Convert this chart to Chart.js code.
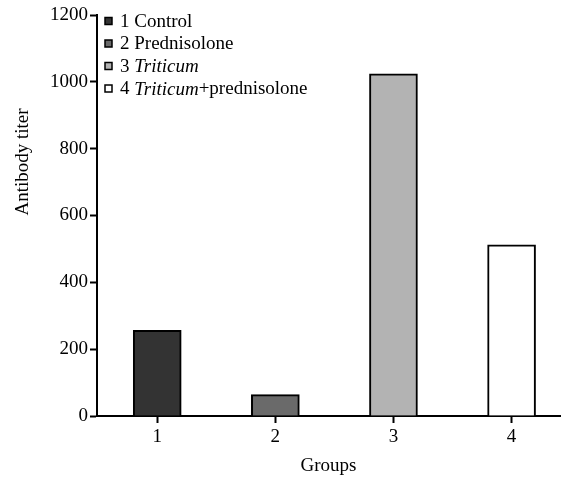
<!DOCTYPE html>
<html>
<head>
<meta charset="utf-8">
<script src="https://cdn.jsdelivr.net/npm/chart.js@4"></script>
<style>
  body { margin: 0; background: #fff; }
  #wrap { width: 566px; height: 477px; }
</style>
</head>
<body>
<div id="wrap"><canvas id="chart" width="566" height="477"></canvas></div>
<script>
// ---- data ----
const groups = [1, 2, 3, 4];
const titers = [256, 64, 1024, 512];
const legendLabels = ['1 Control', '2 Prednisolone', '3 Triticum', '4 Triticum+prednisolone'];
const italicWord = 'Triticum';
const yTicks = [0, 200, 400, 600, 800, 1000, 1200];
const barColors = ['#333333', '#6a6a6a', '#b3b3b3', '#ffffff'];

const FONT = '"Liberation Serif", "Times New Roman", serif';

// legend with the species name in italics, drawn in the top-left of the plot
const legendPlugin = {
    id: 'mixedLegend',
    afterDraw(chart) {
        const ctx = chart.ctx;
        const area = chart.chartArea;
        ctx.save();
        ctx.textBaseline = 'middle';
        ctx.textAlign = 'left';
        legendLabels.forEach(function (label, i) {
            const cy = area.top + 6 + i * 22.5;
            const bx = area.left + 8;
            ctx.fillStyle = barColors[i];
            ctx.fillRect(bx, cy - 3.5, 7, 7);
            ctx.strokeStyle = '#000';
            ctx.lineWidth = 1.5;
            ctx.strokeRect(bx, cy - 3.5, 7, 7);
            // split around the italic word
            const parts = label.split(italicWord);
            let x = area.left + 23;
            ctx.fillStyle = '#000';
            parts.forEach(function (p, k) {
                ctx.font = '19px ' + FONT;
                ctx.fillText(p, x, cy + 1);
                x += ctx.measureText(p).width;
                if (k < parts.length - 1) {
                    ctx.font = 'italic 19px ' + FONT;
                    ctx.fillText(italicWord, x, cy + 1);
                    x += ctx.measureText(italicWord).width;
                }
            });
        });
        ctx.restore();
    }
};

// y axis title sits above the middle of the axis in the original
const yTitlePlugin = {
    id: 'yTitle',
    afterDraw(chart) {
        const ctx = chart.ctx;
        ctx.save();
        ctx.translate(23, 162);
        ctx.rotate(-Math.PI / 2);
        ctx.font = '19px ' + FONT;
        ctx.fillStyle = '#000';
        ctx.textAlign = 'center';
        ctx.textBaseline = 'middle';
        ctx.fillText('Antibody titer', 0, 0);
        ctx.restore();
    }
};

const ctx = document.getElementById('chart').getContext('2d');
new Chart(ctx, {
    type: 'bar',
    data: {
        datasets: [{
            data: groups.map(function (g, i) { return { x: g, y: titers[i] }; }),
            backgroundColor: barColors,
            borderColor: '#000',
            borderWidth: 2,
            barThickness: 48
        }]
    },
    options: {
        responsive: false,
        animation: false,
        layout: { padding: { top: 15, right: 6 } },
        plugins: {
            legend: { display: false },
            tooltip: { enabled: false }
        },
        scales: {
            x: {
                type: 'linear',
                offset: false,
                min: 0.49,
                max: 4.41,
                afterBuildTicks: function (scale) {
                    scale.ticks = groups.map(function (g) { return { value: g }; });
                },
                afterFit: function (scale) { scale.height = 61; },
                grid: {
                    offset: false,
                    drawOnChartArea: false,
                    drawTicks: true,
                    tickLength: 7,
                    tickWidth: 2,
                    tickColor: '#000'
                },
                border: { display: true, color: '#000', width: 2 },
                ticks: {
                    color: '#000',
                    padding: 3,
                    font: { family: FONT, size: 19 },
                    callback: function (v) { return String(v); }
                },
                title: {
                    display: true,
                    text: 'Groups',
                    color: '#000',
                    padding: { top: 2, bottom: 0 },
                    font: { family: FONT, size: 19 }
                }
            },
            y: {
                min: 0,
                max: 1200,
                afterBuildTicks: function (scale) {
                    scale.ticks = yTicks.map(function (v) { return { value: v }; });
                },
                afterFit: function (scale) { scale.width = 97; },
                grid: {
                    drawOnChartArea: false,
                    drawTicks: true,
                    tickLength: 7,
                    tickWidth: 2,
                    tickColor: '#000'
                },
                border: { display: true, color: '#000', width: 2 },
                ticks: {
                    color: '#000',
                    padding: 2,
                    font: { family: FONT, size: 19 },
                    callback: function (v) { return String(v); }
                }
            }
        }
    },
    plugins: [legendPlugin, yTitlePlugin]
});
</script>
</body>
</html>
